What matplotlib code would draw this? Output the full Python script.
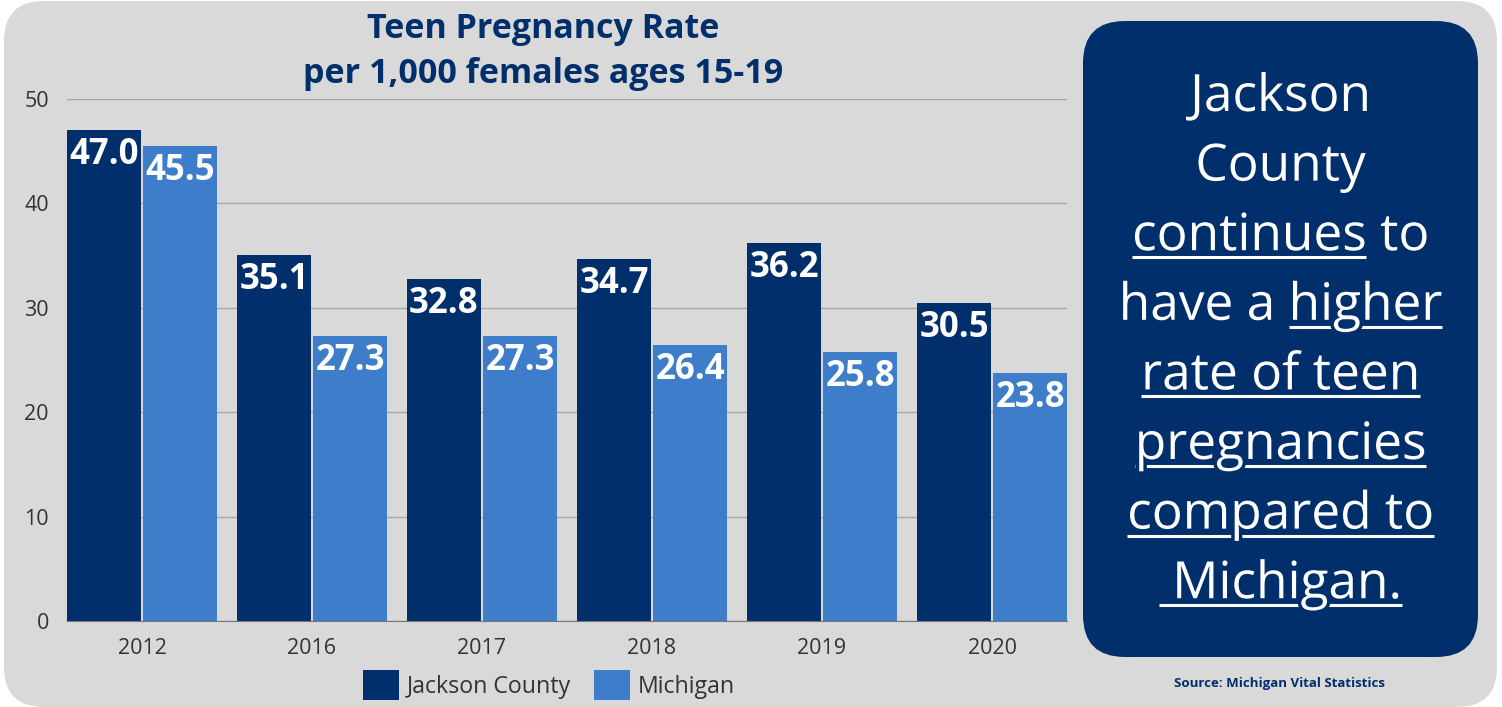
import numpy as np
import matplotlib
matplotlib.use("Agg")
import matplotlib.pyplot as plt
import matplotlib.patheffects as pe
from matplotlib.patches import FancyBboxPatch, Patch
from matplotlib.transforms import IdentityTransform
from matplotlib.lines import Line2D

plt.rcParams["font.family"] = "Open Sans"

# data
years = ["2012", "2016", "2017", "2018", "2019", "2020"]
jackson = [47.0, 35.1, 32.8, 34.7, 36.2, 30.5]
michigan = [45.5, 27.3, 27.3, 26.4, 25.8, 23.8]
series_names = ["Jackson County", "Michigan"]

navy = "#002f6c"
blue = "#3d7dca"
panel = "#d9d9d9"
txt = "#333333"

W, H = 1502, 707
fig = plt.figure(figsize=(W / 100, H / 100), dpi=100)
fig.patch.set_facecolor("white")
pix = IdentityTransform()

# grey rounded panel behind everything
fig.add_artist(FancyBboxPatch((4, 0), 1493, 706,
                              boxstyle="round,pad=0,rounding_size=40",
                              fc=panel, ec="none", transform=pix, zorder=0))

ax = fig.add_axes([67 / W, 1 - 621 / H, 1000 / W, 522 / H])
ax.set_facecolor("none")
x = np.arange(len(years))
off, bw = 0.2235, 0.435
ax.bar(x - off, jackson, bw, color=navy, zorder=2)
ax.bar(x + off, michigan, bw, color=blue, zorder=2)
for xs, vals in ((x - off, jackson), (x + off, michigan)):
    for xi, v in zip(xs, vals):
        ax.annotate(f"{v:.1f}", (xi, v), xytext=(0, -25), textcoords="offset pixels",
                    ha="center", va="center", color="white", fontsize=25,
                    fontweight="bold", zorder=3)

ax.set_xlim(-0.441, 5.441)
ax.set_ylim(0, 50)
ax.set_yticks(range(0, 51, 10))
ax.set_xticks(x)
ax.set_xticklabels(years)
ax.grid(axis="y", color="#a6a6a6", lw=1)
ax.set_axisbelow(True)
for s in ("top", "right", "left"):
    ax.spines[s].set_visible(False)
ax.spines["bottom"].set_color("#777777")
ax.tick_params(length=0, labelsize=15.5, colors=txt)
ax.tick_params(axis="y", pad=13)
ax.tick_params(axis="x", pad=12.5)

# title
fig.text(543 / W, 1 - 29 / H, "Teen Pregnancy Rate", ha="center", va="center",
         fontsize=24.5, fontweight="bold", color=navy)
fig.text(543 / W, 1 - 74 / H, "per 1,000 females ages 15-19", ha="center", va="center",
         fontsize=24.5, fontweight="bold", color=navy)

# legend
fig.legend(handles=[Patch(fc=navy), Patch(fc=blue)], labels=series_names,
           loc="center", bbox_to_anchor=(549 / W, 1 - 685 / H), ncol=2, frameon=False,
           fontsize=16.7, handlelength=1.55, handleheight=1.55, handletextpad=0.35,
           columnspacing=1.0, labelcolor=txt, borderaxespad=0)

# navy call-out box
fig.add_artist(FancyBboxPatch((1083, H - 657), 395, 636,
                              boxstyle="round,pad=0,rounding_size=42",
                              fc=navy, ec="none", transform=pix, zorder=1))

box_lines = [
    [("Jackson", False)],
    [("County", False)],
    [("continues", True), (" to", False)],
    [("have a ", False), ("higher", True)],
    [("rate of teen", True)],
    [("pregnancies", True)],
    [("compared to", True)],
    [(" Michigan.", True)],
]
fs = 37
cx = 1280.5
renderer = fig.canvas.get_renderer()


def tw(s):
    t = fig.text(0, 0, "|" + s + "|", fontsize=fs, transform=pix)
    w = t.get_window_extent(renderer).width
    t.remove()
    return w


bars_w = tw("")
for i, segs in enumerate(box_lines):
    base = H - (111 + 69.6 * i)
    line = "".join(s for s, _ in segs)
    # navy halo cuts the underline around descenders
    fig.text(cx, base, line, ha="center", va="baseline", fontsize=fs,
             color="white", transform=pix, zorder=3,
             path_effects=[pe.Stroke(linewidth=5, foreground=navy), pe.Normal()])
    left = cx - (tw(line) - bars_w) / 2
    pre = ""
    for s, ul in segs:
        if ul:
            x0 = left + tw(pre) - bars_w
            x1 = x0 + tw(s) - bars_w
            fig.add_artist(Line2D([x0, x1], [base - 7, base - 7], color="white",
                                  lw=2.2, solid_capstyle="butt", transform=pix,
                                  zorder=2))
        pre += s

fig.text(1280 / W, 1 - 684 / H, "Source: Michigan Vital Statistics", ha="center",
         va="center", fontsize=9.5, fontweight="bold", color=navy)

fig.savefig("out.png", dpi=100)
